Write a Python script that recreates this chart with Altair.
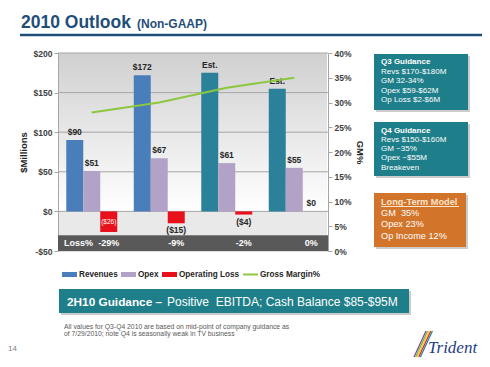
import altair as alt
import pandas as pd

# ---------------- data ----------------
quarters = ["Q1", "Q2", "Q3MPG", "Q4MPG"]
revenues = [90, 172, 175, 155]
revenue_labels = ["$90", "$172", "Est.", "Est."]
is_estimate = [False, False, True, True]
opex = [51, 67, 61, 55]
operating_loss = [-26, -15, -4, 0]
gross_margin = [28, 30, 33, 35]
loss_pct = ["-29%", "-9%", "-2%", "0%"]
series = ["Revenues", "Opex", "Operating Loss"]
left_ticks = [-50, 0, 50, 100, 150, 200]
grid_values = [0, 50, 100, 150, 200]
right_ticks = [0, 5, 10, 15, 20, 25, 30, 35, 40]

q3_lines = ["Q3 Guidance", "Revs $170-$180M", "GM 32-34%", "Opex $59-$62M", "Op Loss $2-$6M"]
q4_lines = ["Q4 Guidance", "Revs $150-$160M", "GM ~35%", "Opex ~$55M", "Breakeven"]
lt_lines = ["Long-Term Model", "GM\u00a0\u00a035%", "Opex 23%", "Op Income 12%"]
footnote_lines = [
    "All values for Q3-Q4 2010 are based on mid-point of company guidance as",
    "of 7/29/2010; note Q4 is seasonally weak in TV business",
]
legend_items = ["Revenues", "Opex", "Operating Loss", "Gross Margin%"]

# ---------------- styling ----------------
FONT = "Liberation Sans"
NAVY = "#1F4E79"
TEAL_BOX = "#1E7E89"
ORANGE = "#D2742A"
C_REV = "#4A7EBB"
C_REV_EST = "#2B8199"
C_OPEX = "#B3A2C7"
C_LOSS = "#E8101A"
C_GM = "#8DC63F"
TXT = "#262626"

W, H = 270, 198
OX, OY = 58, 53  # page position of the plot area
Y_MIN, Y_MAX = -50, 200
GM_MAX = 40
K = (Y_MAX - Y_MIN) / GM_MAX  # left units per GM% point


def px(a):
    return a - OX


def py(a):
    return a - OY


def money(v):
    return f"${v}" if v >= 0 else f"(${-v})"


rows = []
for i, q in enumerate(quarters):
    rows.append(dict(quarter=q, series="Revenues", value=revenues[i],
                     key="Revenues Est." if is_estimate[i] else "Revenues",
                     label=revenue_labels[i]))
    rows.append(dict(quarter=q, series="Opex", value=opex[i], key="Opex",
                     label=money(opex[i])))
    rows.append(dict(quarter=q, series="Operating Loss", value=operating_loss[i],
                     key="Operating Loss", label=money(operating_loss[i])))
bars_df = pd.DataFrame(rows)
bars_df["mid"] = bars_df["value"] / 2

up_df = bars_df[bars_df["series"] != "Operating Loss"].reset_index(drop=True)
loss_df = bars_df[bars_df["series"] == "Operating Loss"]
loss_inside = loss_df[loss_df["value"] <= -20].reset_index(drop=True)
loss_below = loss_df[(loss_df["value"] < 0) & (loss_df["value"] > -20)].reset_index(drop=True)
loss_zero = loss_df[loss_df["value"] >= 0].reset_index(drop=True)

BAND_TOP, BAND_BOTTOM = -30, -50
BAND_MID = (BAND_TOP + BAND_BOTTOM) / 2

pct_df = pd.DataFrame({"quarter": quarters, "series": ["Operating Loss"] * len(quarters),
                       "txt": loss_pct, "pos": [BAND_MID] * len(quarters)})
gm_df = pd.DataFrame({"quarter": quarters, "gm": gross_margin})
grid_df = pd.DataFrame({"v": grid_values})
one = pd.DataFrame({"a": [0]})
bg_df = pd.DataFrame({"top": [Y_MAX], "zero": [0], "btop": [BAND_TOP], "bbot": [BAND_BOTTOM],
                      "mid": [BAND_MID]})

xscale = alt.Scale(domain=quarters, paddingInner=0.245, paddingOuter=0.1225)
yscale = alt.Scale(domain=[Y_MIN, Y_MAX], nice=False, zero=False)
xo = alt.XOffset("series:N", scale=alt.Scale(domain=series, paddingInner=0, paddingOuter=0))
xq = alt.X("quarter:N", scale=xscale, axis=None)


def yl(field):
    return alt.Y(field, type="quantitative", scale=yscale, axis=None)


axis_common = dict(labelFont=FONT, labelFontSize=8.5, labelFontWeight="bold",
                   labelColor="#404040", domainColor="#a6a6a6", tickColor="#a6a6a6",
                   tickSize=4, labelPadding=2, grid=False, titleFont=FONT,
                   titleFontSize=9.5, titleFontWeight="bold", titleColor=TXT)

# ---------------- plot layers ----------------
grad = alt.LinearGradient(
    gradient="linear",
    stops=[alt.GradientStop(color="#d0d0d0", offset=0),
           alt.GradientStop(color="#ffffff", offset=1)],
    x1=0, x2=0, y1=0, y2=1,
)
bg_top = alt.Chart(bg_df).mark_rect(color=grad).encode(
    x=alt.value(1), x2=alt.value(W - 1), y=yl("top"), y2="zero:Q")
bg_low = alt.Chart(bg_df).mark_rect(color="#e9e9e9").encode(
    x=alt.value(1), x2=alt.value(W - 1), y=yl("zero"), y2="btop:Q")
grid = alt.Chart(grid_df).mark_rule(color="#a6a6a6", strokeWidth=1).encode(
    y=yl("v"), x=alt.value(0), x2=alt.value(W))
band = alt.Chart(bg_df).mark_rect(color="#595959").encode(
    x=alt.value(0), x2=alt.value(W), y=yl("btop"), y2="bbot:Q")

bars = alt.Chart(bars_df).mark_bar().encode(
    x=alt.X("quarter:N", scale=xscale,
            axis=alt.Axis(title=None, labelAngle=0, domain=False, ticks=False,
                          labelFont=FONT, labelFontWeight="bold", labelFontSize=8.5,
                          labelColor=TXT, labelPadding=5)),
    xOffset=xo,
    y=alt.Y("value:Q", scale=yscale,
            axis=alt.Axis(values=left_ticks, orient="left",
                          labelExpr="datum.value < 0 ? '-$' + abs(datum.value) : '$' + datum.value",
                          title="$Millions", titlePadding=5, **axis_common)),
    color=alt.Color("key:N", legend=None,
                    scale=alt.Scale(domain=["Revenues", "Revenues Est.", "Opex", "Operating Loss"],
                                    range=[C_REV, C_REV_EST, C_OPEX, C_LOSS])),
)

up_labels = alt.Chart(up_df).mark_text(
    baseline="bottom", dy=-3, fontSize=8.5, fontWeight="bold", color=TXT, font=FONT
).encode(x=xq, xOffset=xo, y=yl("value"), text="label:N")

in_labels = alt.Chart(loss_inside).mark_text(
    baseline="middle", fontSize=6.5, color="white", font=FONT
).encode(x=xq, xOffset=xo, y=yl("mid"), text="label:N")

below_labels = alt.Chart(loss_below).mark_text(
    baseline="top", dy=3, fontSize=8.5, fontWeight="bold", color=TXT, font=FONT
).encode(x=xq, xOffset=xo, y=yl("value"), text="label:N")

zero_labels = alt.Chart(loss_zero).mark_text(
    baseline="bottom", dy=-3, fontSize=8.5, fontWeight="bold", color=TXT, font=FONT
).encode(x=xq, xOffset=xo, y=yl("value"), text="label:N")

pct_labels = alt.Chart(pct_df).mark_text(
    baseline="middle", fontSize=9, fontWeight="bold", color="white", font=FONT
).encode(x=xq, xOffset=xo, y=yl("pos"), text="txt:N")

loss_title = alt.Chart(bg_df).mark_text(
    text="Loss%", align="left", baseline="middle", fontSize=9, fontWeight="bold",
    color="white", font=FONT
).encode(x=alt.value(6), y=yl("mid"))

# gross margin line on the same pixel range, with its own right-hand axis
gm_line = alt.Chart(gm_df).transform_calculate(
    gml=f"{Y_MIN} + datum.gm * {K}"
).mark_line(color=C_GM, strokeWidth=2).encode(
    x=xq,
    y=alt.Y("gml:Q", scale=yscale,
            axis=alt.Axis(orient="right", values=[Y_MIN + v * K for v in right_ticks],
                          labelExpr=f"format((datum.value - ({Y_MIN})) / {K}, 'd') + '%'",
                          title="GM%", titlePadding=3, **axis_common)),
)


# ---------------- slide decorations ----------------
def T(text, x, y, size=9, weight="normal", color="white", align="left",
      baseline="middle", font=FONT, style="normal"):
    return alt.Chart(one).mark_text(
        text=text, align=align, baseline=baseline, fontSize=size, fontWeight=weight,
        color=color, font=font, fontStyle=style
    ).encode(x=alt.value(px(x)), y=alt.value(py(y)))


def R(x, x2, y, y2, color, opacity=1.0):
    return alt.Chart(one).mark_rect(color=color, opacity=opacity).encode(
        x=alt.value(px(x)), x2=alt.value(px(x2)), y=alt.value(py(y)), y2=alt.value(py(y2)))


def L(x, y, x2, y2, color, width=1.0):
    return alt.Chart(one).mark_rule(color=color, strokeWidth=width).encode(
        x=alt.value(px(x)), y=alt.value(py(y)), x2=alt.value(px(x2)), y2=alt.value(py(y2)))


deco = []
# title
deco.append(T("2010 Outlook", 21, 28, size=17.5, weight="bold", color=NAVY, baseline="alphabetic"))
deco.append(T("(Non-GAAP)", 137, 28, size=12, weight="bold", color=NAVY, baseline="alphabetic"))
deco.append(L(20, 35, 490, 35, NAVY, 2.5))

# guidance boxes
for (x0, x1, y0, y1, col) in [(374, 468, 54, 110, TEAL_BOX), (374, 468, 122, 176, TEAL_BOX),
                              (374, 466, 193, 247, ORANGE)]:
    deco.append(R(x0 + 2, x1 + 2, y0 + 2, y1 + 2, "#9a9a9a", 0.5))
    deco.append(R(x0, x1, y0, y1, col))
for i, t in enumerate(q3_lines):
    deco.append(T(t, 381, 62 + i * 9.6, size=8, weight="bold" if i == 0 else "normal"))
for i, t in enumerate(q4_lines):
    deco.append(T(t, 381, 130.5 + i * 9.3, size=8, weight="bold" if i == 0 else "normal"))
for i, t in enumerate(lt_lines):
    deco.append(T(t, 381, 202 + i * 11.2, size=9.2, weight="bold" if i == 0 else "normal",
                  color="#FBE3CB" if i == 0 else "white"))
deco.append(L(381, 206.5, 459, 206.5, "#FBE3CB", 1))

# legend
leg_y = 274.5
leg_cols = [C_REV, C_OPEX, C_LOSS]
leg_rect_x = [62, 121, 162]
leg_text_x = [79, 138, 179, 260]
for i in range(3):
    deco.append(R(leg_rect_x[i], leg_rect_x[i] + 15, leg_y - 2.5, leg_y + 2.5, leg_cols[i]))
deco.append(L(243, leg_y, 258, leg_y, C_GM, 2))
for i, t in enumerate(legend_items):
    deco.append(T(t, leg_text_x[i], leg_y, size=8.2, weight="bold", color=TXT))

# bottom guidance bar
deco.append(R(61, 411, 291, 315, "#9a9a9a", 0.5))
deco.append(R(59, 409, 289, 313, TEAL_BOX))
deco.append(T("2H10 Guidance \u2013", 67, 301.5, size=11.8, weight="bold"))
deco.append(T("Positive\u00a0 EBITDA; Cash Balance $85-$95M", 167, 301.5, size=12))

# footnote, page number
for i, t in enumerate(footnote_lines):
    deco.append(T(t, 64, 327.3 + i * 7, size=6.8, color="#595959"))
deco.append(T("14", 8, 349, size=8, color="#7f7f7f"))

# logo
for i, c in enumerate(["#7B3F98", "#6CB33F", "#F2C811", "#E02020", "#1F7FA8"]):
    deco.append(L(414 + i * 1.6, 357, 426 + i * 1.6, 331, c, 1.2))
deco.append(T("Trident", 428, 353, size=17, color="#1F3C88", font="Liberation Serif",
              style="italic", baseline="alphabetic"))

chart = alt.layer(
    bg_top, bg_low, grid, band, bars, up_labels, in_labels, below_labels, zero_labels,
    pct_labels, loss_title, gm_line, *deco
).resolve_axis(y="independent").properties(
    width=W, height=H,
    padding={"left": 50, "top": 45, "right": 154, "bottom": 108},
    autosize=alt.AutoSizeParams(type="none"),
).configure_view(stroke=None).configure(background="white", font=FONT)

chart.save("out.html", embed_options={"renderer": "svg", "actions": False})
